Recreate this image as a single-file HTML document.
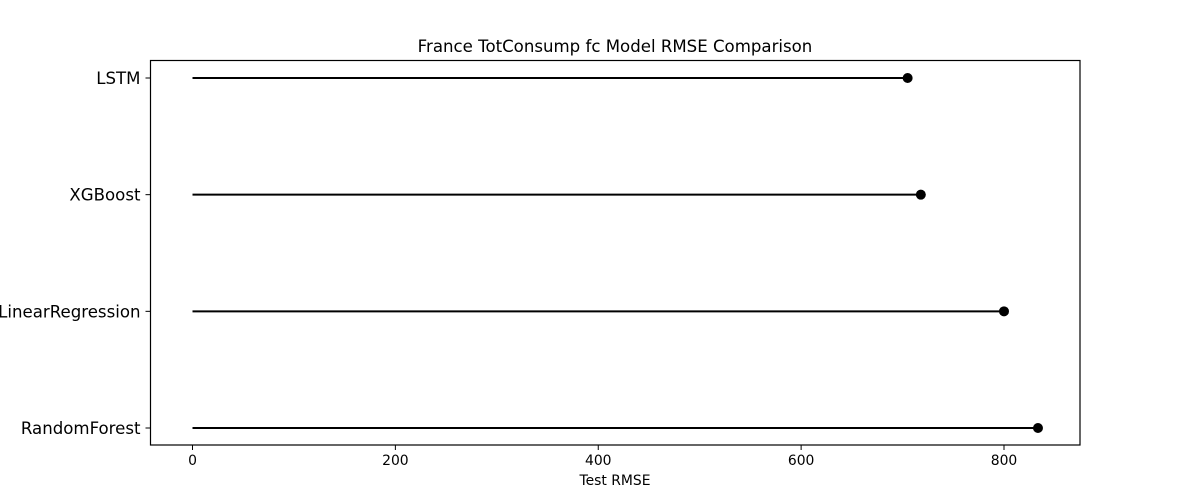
<!DOCTYPE html>
<html><head><meta charset="utf-8"><style>body{margin:0;background:#fff}svg{display:block;font-family:"DejaVu Sans","Liberation Sans",sans-serif}</style></head>
<body>
<svg id="c" width="1200" height="500" viewBox="0 0 1200 500"></svg>
<script>
const categories=["LSTM","XGBoost","LinearRegression","RandomForest"];
const rmseValues=[705,718,800,833.5];
const xTicks=[0,200,400,600,800];
const svg=document.getElementById('c');
const NS='http://www.w3.org/2000/svg';
const L=150.5,R=1080,T=60.5,B=445;
const x=v=>192.5+v*(1004-192.5)/800;
const y=i=>78+i*(428-78)/(categories.length-1);
function el(t,a,txt){const e=document.createElementNS(NS,t);for(const k in a)e.setAttribute(k,a[k]);if(txt!==undefined)e.textContent=txt;svg.appendChild(e);return e;}
let e;
e=el('text',{x:615,y:52,'text-anchor':'middle','font-size':16.6},'France TotConsump fc Model RMSE Comparison');


categories.forEach((c,i)=>{
 e=el('line',{x1:x(0),x2:x(rmseValues[i]),y1:y(i),y2:y(i),stroke:'#000','stroke-width':2});
 
 
 e=el('circle',{cx:x(rmseValues[i]),cy:y(i),r:5,fill:'#000'});
 
 
 e=el('line',{x1:L-5,x2:L,y1:y(i),y2:y(i),stroke:'#000','stroke-width':1});
 
 
 e=el('text',{x:L-10,y:y(i)+6,'text-anchor':'end','font-size':16.6},c);
 
 
});
xTicks.forEach(t=>{
 e=el('line',{x1:x(t),x2:x(t),y1:B,y2:B+5,stroke:'#000','stroke-width':1});
 
 
 e=el('text',{x:x(t),y:B+20,'text-anchor':'middle','font-size':13.9},t);
 
 
});
e=el('rect',{x:L,y:T,width:R-L,height:B-T,fill:'none',stroke:'#000','stroke-width':1.2});


e=el('text',{x:615,y:485,'text-anchor':'middle','font-size':13.9},'Test RMSE');


</script>
</body></html>
